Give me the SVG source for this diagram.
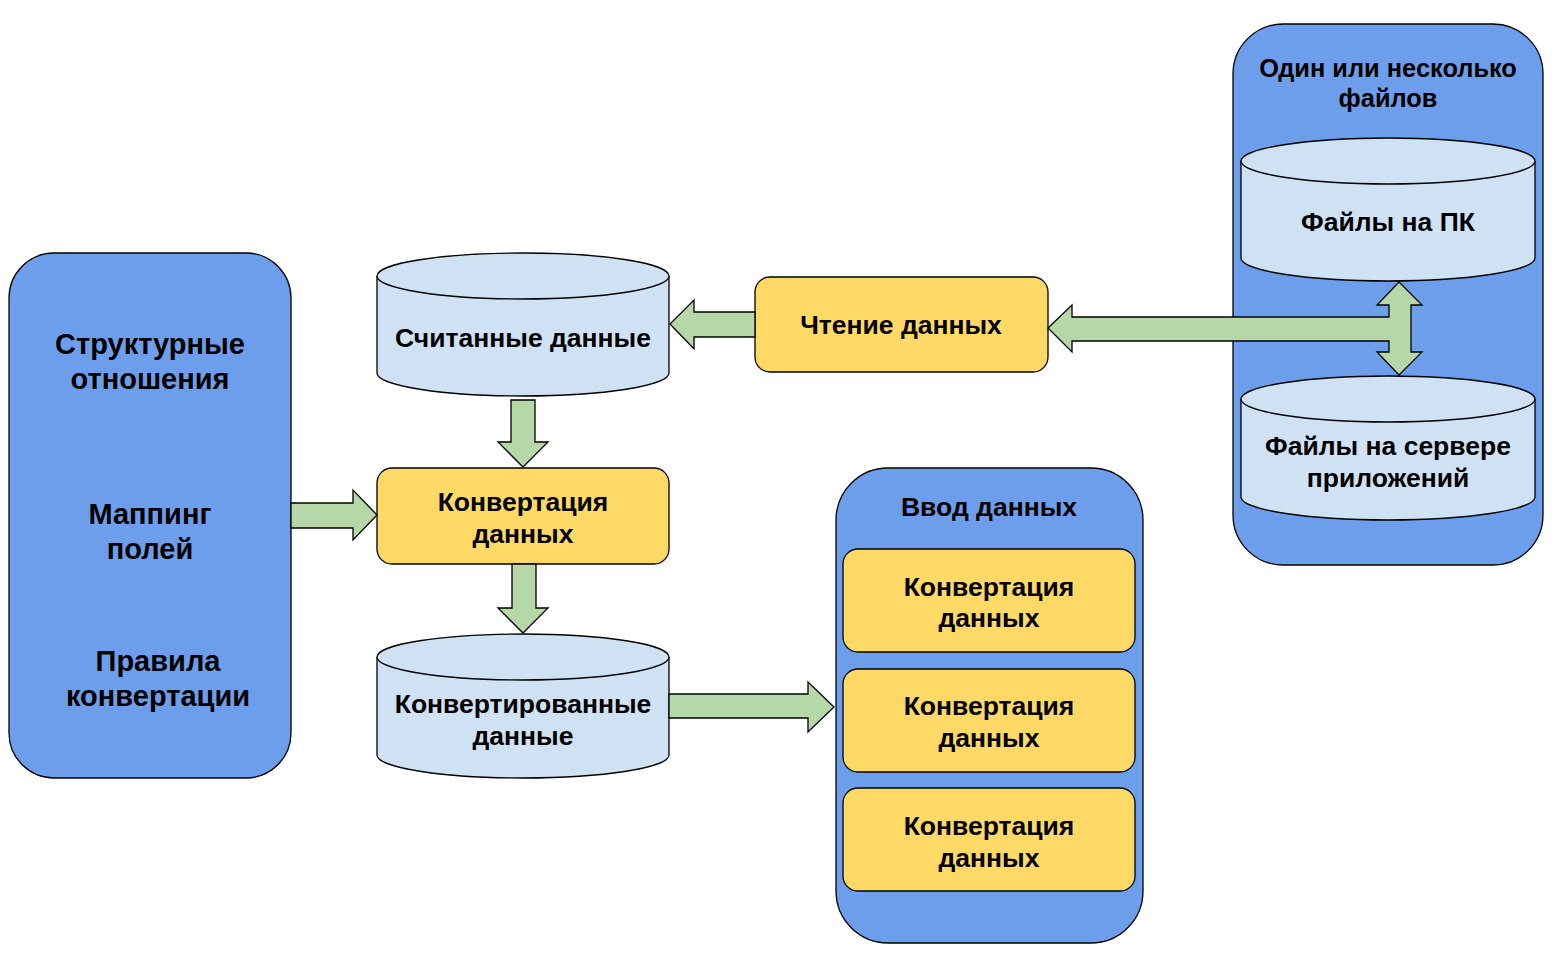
<svg xmlns="http://www.w3.org/2000/svg" width="1552" height="968" viewBox="0 0 1552 968">
<style>
.cont{fill:#6d9eeb;stroke:#000;stroke-width:1.3}
.box{fill:#ffd966;stroke:#000;stroke-width:1.3}
.cyl{fill:#cfe2f3;stroke:#000;stroke-width:1.3}
.arr{fill:#b6d7a8;stroke:#000;stroke-width:1.3;stroke-linejoin:miter}
text{font-family:"Liberation Sans",Arial,sans-serif;font-weight:bold;font-size:26.5px;text-anchor:middle;fill:#000}
.big{font-size:29px}
.ttl{font-size:25.4px}
</style>
<rect width="1552" height="968" fill="#fff"/>
<g id="left-panel">
<rect class="cont" x="9" y="253" width="282" height="525" rx="45" ry="45"/>
<text class="big" x="150" y="354">Структурные</text>
<text class="big" x="150" y="389">отношения</text>
<text class="big" x="150" y="524">Маппинг</text>
<text class="big" x="150" y="559">полей</text>
<text class="big" x="158" y="671">Правила</text>
<text class="big" x="158" y="706">конвертации</text>
</g>
<g id="files-container">
<rect class="cont" x="1233" y="24" width="310" height="541" rx="50" ry="50"/>
<text class="ttl" x="1388" y="77">Один или несколько</text>
<text class="ttl" x="1388" y="107">файлов</text>
</g>
<g id="input-container">
<rect class="cont" x="836" y="468" width="307" height="475" rx="52" ry="52"/>
<text x="989" y="516">Ввод данных</text>
</g>
<g id="read-data">
<path class="cyl" d="M377,276 A146,23 0 0 1 669,276 V373 A146,23 0 0 1 377,373 Z"/>
<path class="cyl" d="M377,276 A146,23 0 0 0 669,276" fill="none"/>
<text x="523" y="347">Считанные данные</text>
</g>
<g id="reading">
<rect class="box" x="755" y="277" width="293" height="95" rx="15" ry="15"/>
<text x="901" y="334">Чтение данных</text>
</g>
<g id="conversion">
<rect class="box" x="377" y="468" width="292" height="96" rx="15" ry="15"/>
<text x="523" y="511">Конвертация</text>
<text x="523" y="543">данных</text>
</g>
<g id="converted-data">
<path class="cyl" d="M377,657 A146,23 0 0 1 669,657 V755 A146,23 0 0 1 377,755 Z"/>
<path class="cyl" d="M377,657 A146,23 0 0 0 669,657" fill="none"/>
<text x="523" y="713">Конвертированные</text>
<text x="523" y="745">данные</text>
</g>
<g id="files-pc">
<path class="cyl" d="M1241,161 A147,23 0 0 1 1535,161 V258 A147,23 0 0 1 1241,258 Z"/>
<path class="cyl" d="M1241,161 A147,23 0 0 0 1535,161" fill="none"/>
<text x="1388" y="231">Файлы на ПК</text>
</g>
<g id="files-server">
<path class="cyl" d="M1241,399 A147,23 0 0 1 1535,399 V497 A147,23 0 0 1 1241,497 Z"/>
<path class="cyl" d="M1241,399 A147,23 0 0 0 1535,399" fill="none"/>
<text x="1388" y="455">Файлы на сервере</text>
<text x="1388" y="487">приложений</text>
</g>
<g id="input-1">
<rect class="box" x="843" y="549" width="292" height="103" rx="15" ry="15"/>
<text x="989" y="596">Конвертация</text>
<text x="989" y="627">данных</text>
</g>
<g id="input-2">
<rect class="box" x="843" y="669" width="292" height="103" rx="15" ry="15"/>
<text x="989" y="715">Конвертация</text>
<text x="989" y="747">данных</text>
</g>
<g id="input-3">
<rect class="box" x="843" y="788" width="292" height="103" rx="15" ry="15"/>
<text x="989" y="835">Конвертация</text>
<text x="989" y="867">данных</text>
</g>
<g id="connectors">
<polygon class="arr" points="755,312 694,312 694,300 670,324 694,349 694,337 755,337"/>
<polygon class="arr" points="511,400 535,400 535,442 548,442 523,467 498,442 511,442"/>
<polygon class="arr" points="291,503 353,503 353,490 377,515 353,540 353,528 291,528"/>
<polygon class="arr" points="512,564 536,564 536,608 548,608 523,633 498,608 512,608"/>
<polygon class="arr" points="669,694 808,694 808,682 834,707 808,732 808,718 669,718"/>
<polygon class="arr" points="1048,328 1072,305 1072,317 1389,317 1389,305 1377,305 1399,282 1422,305 1411,305 1411,352 1422,352 1399,375 1377,352 1389,352 1389,341 1072,341 1072,352"/>
</g>
</svg>
